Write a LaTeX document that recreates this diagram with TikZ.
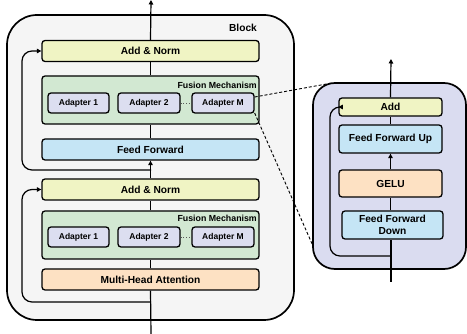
\documentclass[tikz,border=0pt]{standalone}
\usepackage{fontspec}
\setmainfont{Liberation Sans}
\usetikzlibrary{arrows.meta,calc}
\definecolor{cyel}{RGB}{240,244,196}
\definecolor{cgrn}{RGB}{210,232,210}
\definecolor{clav}{RGB}{220,222,240}
\definecolor{cblu}{RGB}{197,229,245}
\definecolor{corg}{RGB}{253,225,195}
\definecolor{cgry}{RGB}{245,245,245}
\definecolor{cpan}{RGB}{218,220,240}
\tikzset{
  box/.style={draw=black,line width=1.3pt,rounded corners=3pt,inner sep=0pt,
    font=\bfseries\fontsize{10.2}{11.5}\selectfont,align=center},
  adp/.style={box,fill=clav,minimum width=62pt,minimum height=20pt,
    font=\bfseries\fontsize{8.5}{10}\selectfont},
  fus/.style={box,fill=cgrn,minimum width=217pt,minimum height=48pt},
  wide/.style={box,minimum width=217pt,minimum height=21pt},
  sm/.style={box,minimum width=103pt},
  flow/.style={line width=1.2pt},
  arr/.style={flow,-{Triangle[length=4.5pt,width=4.5pt]}},
  lbl/.style={font=\bfseries\fontsize{8.8}{10}\selectfont,inner sep=0pt},
  dsh/.style={line width=0.9pt,dash pattern=on 3pt off 2pt},
}
\begin{document}
\begin{tikzpicture}[x=1pt,y=-1pt]
\useasboundingbox (0,0) rectangle (467,334);
% containers
\draw[line width=1.7pt,fill=cgry,rounded corners=30pt] (7,15) rectangle (294,320);
\node[font=\bfseries\fontsize{10.2}{11.5}\selectfont,inner sep=0pt] (blk) at (243,28) {Block};
\draw[line width=1.7pt,fill=cpan,rounded corners=22pt] (313,83) rectangle (466,269);
% left column
\node[wide,fill=cyel] (an1) at (150.5,51) {Add \& Norm};
\node[fus] (fm1) at (150.5,100) {};
\node[lbl,anchor=east] (fl1) at (257,85) {Fusion Mechanism};
\node[adp,minimum width=61pt] (a11) at (78.5,103) {Adapter 1};
\node[adp] (a12) at (149,103) {Adapter 2};
\node[adp] (a1M) at (223,103) {Adapter M};
\node[wide,fill=cblu] (ff) at (150.5,149.5) {Feed Forward};
\node[wide,fill=cyel] (an2) at (150.5,189.5) {Add \& Norm};
\node[fus] (fm2) at (150.5,235) {};
\node[lbl,anchor=east] (fl2) at (257,218) {Fusion Mechanism};
\node[adp,minimum width=61pt] (a21) at (78.5,237) {Adapter 1};
\node[adp] (a22) at (149,237) {Adapter 2};
\node[adp] (a2M) at (223,237) {Adapter M};
\node[wide,fill=corg] (mha) at (150.5,279.5) {Multi-Head Attention};
\draw[line width=0.8pt,dotted,gray!70!black] (a12.east) -- (a1M.west);
\draw[line width=0.8pt,dotted,gray!70!black] (a22.east) -- (a2M.west);
% right panel
\node[sm,fill=cyel,minimum height=18pt] (add) at (390.5,107) {Add};
\node[sm,fill=cblu,minimum height=28pt] (ffu) at (390.5,139) {Feed Forward Up};
\node[sm,fill=corg,minimum height=27pt] (gelu) at (390.5,183.5) {GELU};
\node[box,fill=cblu,minimum width=101pt,minimum height=28pt] (ffd) at (392.5,225) {Feed Forward\\Down};
% coordinates
\coordinate (top1) at (151,0);
\coordinate (bot1) at (151,334);
\coordinate (j1) at (151,170);
\coordinate (j2) at (151,302);
\coordinate (top2) at (391,59);
\coordinate (bot2) at (391,282);
\coordinate (j3) at (391,256);
\coordinate (p1) at (332,83);
\coordinate (p2) at (313,246);
% main flow left
\draw[arr] (an1.north) -- (top1);
\draw[flow] (fm1.north) -- (an1.south);
\draw[flow] (ff.north) -- (fm1.south);
\draw[arr] (an2.north) -- (ff.south);
\draw[flow] (fm2.north) -- (an2.south);
\draw[flow] (mha.north) -- (fm2.south);
\draw[flow] (bot1) -- (mha.south);
% residuals
\draw[arr,rounded corners=10pt] (j1) -| (22,51) -- (an1.west);
\draw[arr,rounded corners=10pt] (j2) -| (22,189.5) -- (an2.west);
\draw[arr,rounded corners=10pt] (j3) -| (330,107) -- (add.west);
% right flow
\draw[arr] (add.north) -- (top2);
\draw[flow] (ffu.north) -- (add.south);
\draw[arr] (gelu.north) -- (ffu.south);
\draw[flow] (ffd.north -| gelu.south) -- (gelu.south);
\draw[flow] (bot2) -- (ffd.south -| bot2);
% zoom lines
\draw[dsh] ([yshift=6pt]a1M.east) -- (p1);
\draw[dsh] ([yshift=-10pt]a1M.east) -- (p2);
\end{tikzpicture}
\end{document}
